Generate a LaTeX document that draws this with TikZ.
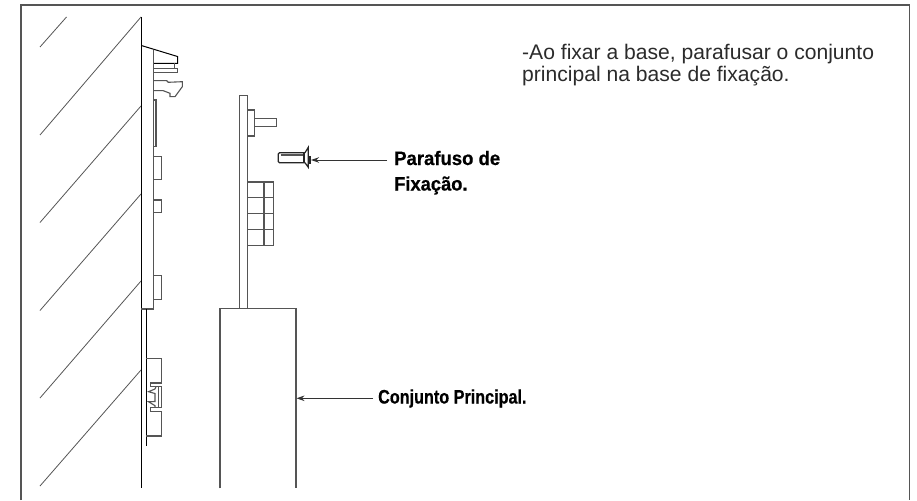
\documentclass[tikz,border=0pt]{standalone}
\usepackage{fontspec}
\setmainfont{Liberation Sans}
\newfontfamily\callfont[BoldFeatures={FakeBold=0.6}]{Liberation Sans}
\usetikzlibrary{arrows.meta}
\usepackage{xcolor}
\definecolor{framegray}{HTML}{555555}
\definecolor{linegray}{HTML}{555555}
\definecolor{textgray}{HTML}{2B2B2B}

\begin{document}
\begin{tikzpicture}[x=1pt, y=-1pt,
    outline/.style={draw=linegray, line width=1.1pt},
    hatch/.style={draw=linegray, line width=0.8pt},
    wall/.style={draw=black, line width=1pt},
    pointer/.style={draw=black!80, line width=1pt, -{Stealth[length=8pt, width=5.5pt]}},
    notetext/.style={text=textgray, anchor=base west, inner sep=0pt, font=\fontsize{21.1}{24}\selectfont},
    calltext/.style={text=black, anchor=base west, inner sep=0pt, transform shape, font=\callfont\fontsize{19.5}{22}\selectfont\bfseries}
  ]
  \useasboundingbox (0, 0) rectangle (917, 500);
  \fill[white] (0, 0) rectangle (917, 500);

  % frame, open at the bottom
  \draw[draw=framegray, line width=1.6pt] (21, 500) -- (21, 5) -- (909.5, 5) -- (909.5, 500);

  % wall
  \draw[hatch] (40, 47) -- (66.5, 17);
  \draw[hatch] (40, 135) -- (141, 17);
  \draw[hatch] (40, 222.5) -- (141, 106);
  \draw[hatch] (40, 310.5) -- (141, 194);
  \draw[hatch] (40, 398) -- (141, 281);
  \draw[hatch] (40, 486) -- (141, 370);
  \draw[wall] (141.3, 17) -- (141.3, 488);

  % fixing base
  \draw[wall] (141.3, 45.5) -- (177.5, 56.5) -- (177.5, 63.3) -- (154, 63.3);
  \draw[outline] (153.7, 50) -- (153.7, 309) -- (141.3, 309);
  \draw[outline] (174.3, 63.3) -- (174.3, 68.3) -- (153.7, 68.3);
  \draw[outline] (174.3, 68.3) -- (177.7, 68.3) -- (177.7, 72.7) -- (153.7, 72.7);
  \draw[outline] (153.7, 80.7) -- (166.7, 80.7) -- (168.3, 82.3) -- (182.3, 81.7) -- (182.3, 86.7) -- (175, 96.7) -- (170, 96.7) -- (170, 93.3) -- (163.3, 90.7) -- (153.7, 90.7);
  \draw[outline, line width=1.4pt] (153.7, 100) rectangle (156, 146.7);
  \draw[outline] (153.7, 156.7) rectangle (161.3, 179.3);
  \draw[outline] (153.7, 200) rectangle (161.3, 212.7);
  \draw[outline] (153.7, 275.7) rectangle (161.3, 299.3);

  % lower part of the base
  \draw[wall] (146.3, 309) -- (146.3, 446);
  \draw[outline] (146.3, 358.7) -- (161.3, 358.7) -- (161.3, 383) -- (150.3, 383) -- (150.3, 386.7) -- (161.3, 386.7) -- (161.3, 407.3) -- (150.3, 407.3) -- (150.3, 411.7) -- (161.3, 411.7) -- (161.3, 436) -- (146.3, 436);
  \draw[outline, line width=1.4pt] (158.5, 386.7) -- (158.5, 407.3);
  \draw[outline] (156, 386.7) -- (155, 389) -- (148.5, 391.7) -- (155, 393.5) -- (155, 401.5) -- (148.5, 401.7) -- (155, 405.7) -- (155, 407.3);

  % main assembly
  \draw[outline] (239.7, 308.7) -- (239.7, 95.3) -- (247.3, 95.3) -- (247.3, 308.7);
  \draw[outline] (220, 488.3) -- (220, 308.7) -- (296, 308.7) -- (296, 488.3);
  \draw[outline] (247.3, 110) -- (254.7, 110) -- (254.7, 136) -- (247.3, 136);
  \draw[outline] (254.7, 118.7) -- (276.7, 118.7) -- (276.7, 126.7) -- (254.7, 126.7);
  \draw[outline] (247.3, 182) -- (273.7, 182) -- (273.7, 245.3) -- (247.3, 245.3);
  \draw[outline] (264, 182) -- (264, 245.3);
  \draw[outline] (247.3, 197.3) -- (273.7, 197.3);
  \draw[outline] (247.3, 213.7) -- (273.7, 213.7);
  \draw[outline] (247.3, 229.3) -- (273.7, 229.3);

  % screw
  \draw[draw=black!85, line width=1.2pt] (305, 152.7) -- (279.5, 152.7) -- (278.3, 154) -- (278.3, 161.5) -- (279.5, 162.7) -- (305, 162.7);
  \draw[outline] (280.5, 155) -- (304, 155);
  \draw[draw=black!85, line width=1.3pt] (304, 152.7) -- (304, 162.7);
  \draw[draw=black!85, line width=1.2pt] (305, 152.7) -- (308.3, 147.3) -- (308.3, 167.3) -- (305, 162.7);
  \draw[draw=black!85, line width=1.3pt] (310, 156) -- (310, 164);

  % labels
  \node[notetext] (notea) at (522, 59.3) {-Ao fixar a base, parafusar o conjunto};
  \node[notetext] (noteb) at (522, 81.5) {principal na base de fixação.};
  \node[calltext, xscale=0.95] (parafuso) at (394, 165) {Parafuso de};
  \node[calltext, xscale=0.94] (fixacao) at (394, 190.5) {Fixação.};
  \node[calltext, xscale=0.83] (conjunto) at (378, 403.5) {Conjunto Principal.};

  % pointers
  \coordinate (screwtip) at (311, 160);
  \coordinate (boxtip) at (296.5, 398.3);
  \draw[pointer] ([xshift=-7pt]parafuso.west |- screwtip) -- (screwtip);
  \draw[pointer] ([xshift=-5pt]conjunto.west |- boxtip) -- (boxtip);
\end{tikzpicture}
\end{document}
